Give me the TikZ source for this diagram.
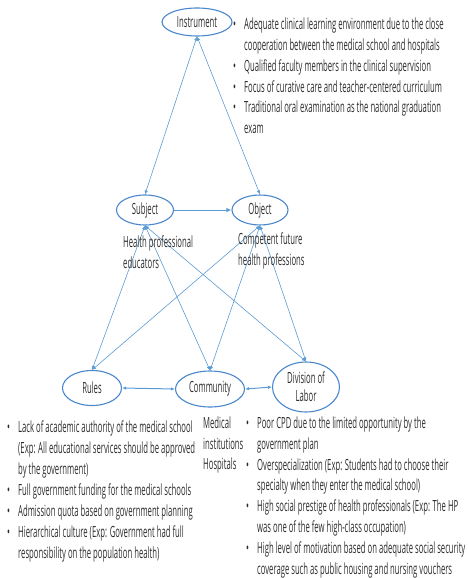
\documentclass[tikz,border=0pt]{standalone}
\usepackage{fontspec}
\setmainfont{Open Sans}[FakeStretch=0.5]
\usetikzlibrary{shapes.geometric,arrows.meta}
\definecolor{linkblue}{RGB}{91,155,213}
\definecolor{rimblue}{RGB}{74,135,205}
\definecolor{inkgray}{RGB}{45,45,45}
\newcommand{\bul}{\makebox[11pt][l]{\textbullet}}
\newcommand{\ind}{\hspace*{11pt}}
\begin{document}
\begin{tikzpicture}[x=1pt,y=-1pt,
  every node/.style={font=\fontsize{15.4}{20.7}\selectfont, text=inkgray},
  actor/.style={ellipse, draw=rimblue, line width=1.1pt, inner sep=0pt, align=center},
  link/.style={draw=linkblue, line width=0.6pt},
  level/.style={line width=1pt},
  both/.style={link, {Latex[length=4pt,width=3.4pt]}-{Latex[length=4pt,width=3.4pt]}},
  one/.style={link, -{Latex[length=5pt,width=4.5pt]}},
  note/.style={anchor=north west, inner sep=0pt, align=left}]
  \useasboundingbox (0,0) rectangle (467,578);

  % activity system elements
  \node[actor, minimum width=70pt, minimum height=28pt] (ins) at (197,22) {Instrument};
  \node[actor, minimum width=57pt, minimum height=30pt] (sub) at (145,210) {Subject};
  \node[actor, minimum width=56pt, minimum height=30pt] (obj) at (260,210) {Object};
  \node[actor, minimum width=59pt, minimum height=35pt] (rul) at (92,388) {Rules};
  \node[actor, minimum width=69pt, minimum height=36pt] (com) at (210,389) {Community};
  \node[actor, minimum width=67pt, minimum height=50pt] (div) at (306,387) {Division of\\[-3pt]Labor};

  % connections between elements
  \draw[both] (ins.south) -- (sub.north);
  \draw[both] (ins.south) -- (obj.north);
  \draw[one, level] (sub.east) -- (obj.west);
  \draw[both] (sub.south) -- (rul.north);
  \draw[both] (sub.south) -- (com.north);
  \draw[both] (sub.south) -- (div.north);
  \draw[both] (obj.south) -- (rul.north);
  \draw[both] (obj.south) -- (com.north);
  \draw[both] (obj.south) -- (div.north);
  \draw[both, level] (rul.east) -- (com.west);
  \draw[both, level] (com.east) -- (div.west);

  % descriptions
  \node[note] (insnote) at (233,18) {%
    \bul Adequate clinical learning environment due to the close\\
    \ind cooperation between the medical school and hospitals\\
    \bul Qualified faculty members in the clinical supervision\\
    \bul Focus of curative care and teacher-centered curriculum\\
    \bul Traditional oral examination as the national graduation\\
    \ind exam};
  \node[note] (subnote) at (123,235.5) {Health professional\\educators};
  \node[note] (objnote) at (238,233) {Competent future\\health professions};
  \node[note, font=\fontsize{15.4}{21}\selectfont] (rulnote) at (7,421) {%
    \bul Lack of academic authority of the medical school\\
    \ind (Exp: All educational services should be approved\\
    \ind by the government)\\
    \bul Full government funding for the medical schools\\
    \bul Admission quota based on government planning\\
    \bul Hierarchical culture (Exp: Government had full\\
    \ind responsibility on the population health)};
  \node[note] (comnote) at (203,416.5) {Medical\\institutions\\Hospitals};
  \node[note, font=\fontsize{15.4}{20.85}\selectfont] (divnote) at (246,416.5) {%
    \bul Poor CPD due to the limited opportunity by the\\
    \ind government plan\\
    \bul Overspecialization (Exp: Students had to choose their\\
    \ind specialty when they enter the medical school)\\
    \bul High social prestige of health professionals (Exp: The HP\\
    \ind was one of the few high-class occupation)\\
    \bul High level of motivation based on adequate social security\\
    \ind coverage such as public housing and nursing vouchers};
\end{tikzpicture}
\end{document}
